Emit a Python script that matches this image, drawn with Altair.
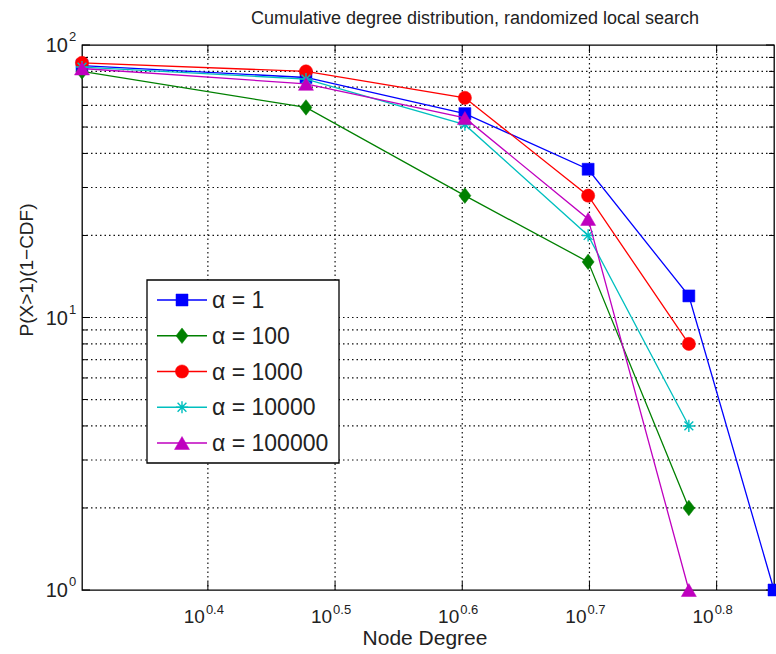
import altair as alt
import pandas as pd

# ---- data -------------------------------------------------------------
degree = [2, 3, 4, 5, 6, 7]
alpha_1 = [84, 76, 56, 35, 12, 1]
alpha_100 = [80, 59, 28, 16, 2]
alpha_1000 = [86, 80, 64, 28, 8]
alpha_10000 = [83, 75, 51, 20, 4]
alpha_100000 = [82, 72, 54, 23, 1]

series_names = ["α = 1", "α = 100", "α = 1000", "α = 10000", "α = 100000"]
series_values = [alpha_1, alpha_100, alpha_1000, alpha_10000, alpha_100000]
series_colors = ["#0000FF", "#008000", "#FF0000", "#00BFBF", "#BF00BF"]

x_tick_exponents = ["0.4", "0.5", "0.6", "0.7", "0.8"]
y_tick_exponents = ["0", "1", "2"]
y_minor_values = [2, 3, 4, 5, 6, 7, 8, 9, 20, 30, 40, 50, 60, 70, 80, 90]

# ---- styling ------------------------------------------------------------
FONT = "Liberation Sans"
W, H = 692, 545
GRID_DASH = [1.5, 3]
GRID_COLOR = "#111"

# marker definitions (shape, size, filled)
ASTERISK = "M-1,0L1,0M0,-1L0,1M-0.72,-0.72L0.72,0.72M-0.72,0.72L0.72,-0.72"
TALL_DIAMOND = "M0,-1.3L1,0L0,1.3L-1,0Z"
markers = [
    ("square", 144, True),
    (TALL_DIAMOND, 144, True),
    ("circle", 175, True),
    (ASTERISK, 150, False),
    ("triangle-up", 225, True),
]

xs = alt.Scale(type="log", domain=[2, 7], nice=False, zero=False)
ys = alt.Scale(type="log", domain=[1, 100], nice=False, zero=False)

one = pd.DataFrame({"k": [0]})
layers = []

# ---- grid ----------------------------------------------------------------
x_ticks = pd.DataFrame({"v": [10 ** float(e) for e in x_tick_exponents], "e": x_tick_exponents})
y_major = pd.DataFrame({"v": [10 ** int(e) for e in y_tick_exponents], "e": y_tick_exponents})
y_grid = pd.DataFrame({"v": y_minor_values + [10]})
y_minor = pd.DataFrame({"v": y_minor_values})

layers.append(
    alt.Chart(x_ticks).mark_rule(color=GRID_COLOR, strokeWidth=1.2, strokeDash=GRID_DASH).encode(
        x=alt.X("v:Q", scale=xs, axis=None), y=alt.value(0), y2=alt.value(H)
    )
)
layers.append(
    alt.Chart(y_grid).mark_rule(color=GRID_COLOR, strokeWidth=1.2, strokeDash=GRID_DASH).encode(
        y=alt.Y("v:Q", scale=ys, axis=None), x=alt.value(0), x2=alt.value(W)
    )
)

# ---- inward tick marks ------------------------------------------------
for y0, y1 in [(H, H - 8), (0, 8)]:
    layers.append(
        alt.Chart(x_ticks).mark_rule(color="black", strokeWidth=1).encode(
            x=alt.X("v:Q", scale=xs, axis=None), y=alt.value(y0), y2=alt.value(y1)
        )
    )
for df, ln in [(y_minor, 5), (y_major, 8)]:
    for x0, x1 in [(0, ln), (W, W - ln)]:
        layers.append(
            alt.Chart(df).mark_rule(color="black", strokeWidth=1).encode(
                y=alt.Y("v:Q", scale=ys, axis=None), x=alt.value(x0), x2=alt.value(x1)
            )
        )

# ---- series ------------------------------------------------------------
for name, vals, color, (shape, size, filled) in zip(series_names, series_values, series_colors, markers):
    df = pd.DataFrame({"degree": degree[: len(vals)], "p": vals})
    enc = dict(
        x=alt.X("degree:Q", scale=xs, axis=None),
        y=alt.Y("p:Q", scale=ys, axis=None),
    )
    layers.append(alt.Chart(df).mark_line(color=color, strokeWidth=1.3).encode(**enc))
    pt = dict(shape=shape, size=size, opacity=1, filled=filled)
    if filled:
        pt.update(fill=color, stroke=color, strokeWidth=0.5)
    else:
        pt.update(stroke=color, strokeWidth=1.4)
    layers.append(alt.Chart(df).mark_point(**pt).encode(**enc))

# ---- tick labels (10 with superscript exponent) -------------------------
layers.append(
    alt.Chart(x_ticks).mark_text(text="10", align="right", baseline="alphabetic", dx=-3,
                                 font=FONT, fontSize=19, color="#222").encode(
        x=alt.X("v:Q", scale=xs, axis=None), y=alt.value(H + 33)
    )
)
layers.append(
    alt.Chart(x_ticks).mark_text(align="left", baseline="alphabetic", dx=-2,
                                 font=FONT, fontSize=13, color="#222").encode(
        x=alt.X("v:Q", scale=xs, axis=None), y=alt.value(H + 24), text="e:N"
    )
)
layers.append(
    alt.Chart(y_major).mark_text(text="10", align="right", baseline="alphabetic", dy=7,
                                 font=FONT, fontSize=20, color="#222").encode(
        y=alt.Y("v:Q", scale=ys, axis=None), x=alt.value(-14)
    )
)
layers.append(
    alt.Chart(y_major).mark_text(align="left", baseline="alphabetic", dy=-4,
                                 font=FONT, fontSize=13, color="#222").encode(
        y=alt.Y("v:Q", scale=ys, axis=None), x=alt.value(-13), text="e:N"
    )
)

# ---- axis titles and chart title ------------------------------------------
layers.append(
    alt.Chart(one).mark_text(text="Node Degree", align="center", baseline="alphabetic",
                             font=FONT, fontSize=21, color="#222").encode(
        x=alt.value(343), y=alt.value(H + 55)
    )
)
layers.append(
    alt.Chart(one).mark_text(text="P(X>1)(1−CDF)", align="center", baseline="alphabetic", angle=270,
                             font=FONT, fontSize=19, color="#222").encode(
        x=alt.value(-49), y=alt.value(225)
    )
)
layers.append(
    alt.Chart(one).mark_text(text="Cumulative degree distribution, randomized local search",
                             align="center", baseline="alphabetic",
                             font=FONT, fontSize=18, color="#222").encode(
        x=alt.value(393), y=alt.value(-21)
    )
)

# ---- legend box ------------------------------------------------------------
LX0, LX1, LY0, LY1 = 65, 257, 235, 418
layers.append(
    alt.Chart(one).mark_rect(fill="white", stroke="black", strokeWidth=1.3).encode(
        x=alt.value(LX0), x2=alt.value(LX1), y=alt.value(LY0), y2=alt.value(LY1)
    )
)
for i, (name, color, (shape, size, filled)) in enumerate(zip(series_names, series_colors, markers)):
    yr = LY0 + 20 + i * 35.75
    layers.append(
        alt.Chart(one).mark_rule(color=color, strokeWidth=1.5).encode(
            x=alt.value(LX0 + 10), x2=alt.value(LX0 + 60), y=alt.value(yr)
        )
    )
    pt = dict(shape=shape, size=size, opacity=1, filled=filled)
    if filled:
        pt.update(fill=color, stroke=color, strokeWidth=0.5)
    else:
        pt.update(stroke=color, strokeWidth=1.4)
    layers.append(
        alt.Chart(one).mark_point(**pt).encode(x=alt.value(LX0 + 35), y=alt.value(yr))
    )
    layers.append(
        alt.Chart(one).mark_text(text=name, align="left", baseline="middle",
                                 font=FONT, fontSize=23, color="#222").encode(
            x=alt.value(LX0 + 65), y=alt.value(yr + 1)
        )
    )

chart = (
    alt.layer(*layers)
    .properties(
        width=W,
        height=H,
        padding={"left": 82, "top": 45, "right": 2, "bottom": 64},
        autosize=alt.AutoSizeParams(type="none"),
        background="white",
    )
    .configure_view(stroke="black", strokeWidth=1.3)
)

chart.save("out.html", embed_options={"renderer": "svg", "actions": False})
